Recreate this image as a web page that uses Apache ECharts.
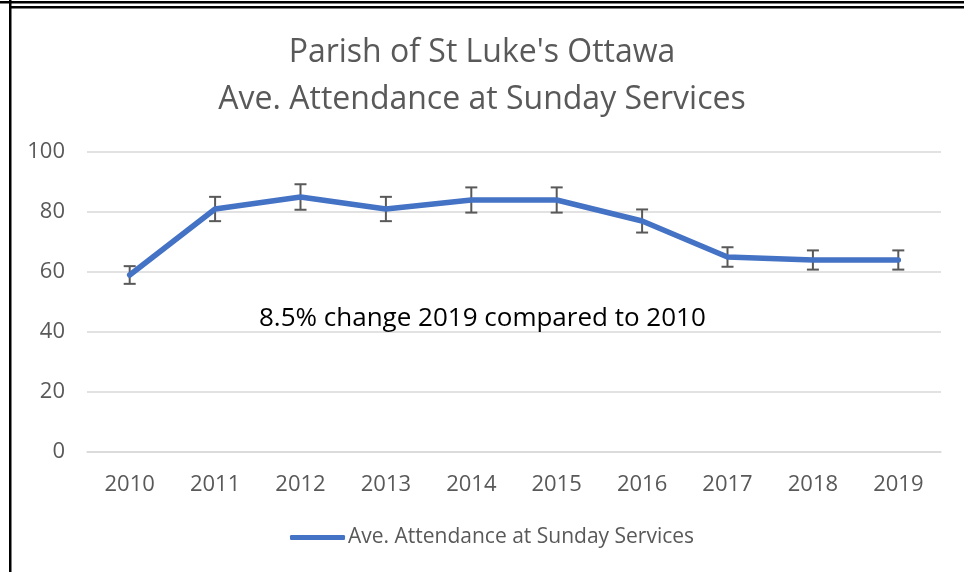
<!DOCTYPE html>
<html>
<head>
<meta charset="utf-8">
<script src="https://cdn.jsdelivr.net/npm/echarts@6/dist/echarts.min.js"></script>
<style>html,body{margin:0;padding:0;background:#fff;}#c{width:964px;height:572px;}</style>
</head>
<body>
<div id="c"></div>
<script>
const years = ['2010','2011','2012','2013','2014','2015','2016','2017','2018','2019'];
const attendance = [59, 81, 85, 81, 84, 84, 77, 65, 64, 64];
const errorPercent = 5;
const yTicks = [0, 20, 40, 60, 80, 100];
const titleLines = ["Parish of St Luke's Ottawa", "Ave. Attendance at Sunday Services"];
const seriesName = 'Ave. Attendance at Sunday Services';
const note = '8.5% change 2019 compared to 2010';

const FONT = '"Open Sans", "Noto Sans", sans-serif';
const errData = attendance.map((v, i) => [i, v - v * errorPercent / 100, v + v * errorPercent / 100]);

const chart = echarts.init(document.getElementById('c'), null, {renderer: 'canvas'});
chart.setOption({
  animation: false,
  backgroundColor: '#ffffff',
  title: {
    text: titleLines.join('\n'),
    left: 'center',
    top: 24,
    textStyle: {color: '#595959', fontSize: 32, fontWeight: 'normal', fontFamily: FONT, lineHeight: 47}
  },
  grid: {left: 87, right: 23, top: 152, bottom: 120},
  legend: {
    left: 285,
    top: 522,
    data: [{name: seriesName, icon: 'roundRect'}],
    itemWidth: 55,
    itemHeight: 5,
    textStyle: {color: '#595959', fontSize: 21, fontFamily: FONT, padding: [0, 0, 0, -2]}
  },
  xAxis: {
    type: 'category',
    data: years,
    boundaryGap: true,
    axisLine: {show: true, lineStyle: {color: '#d9d9d9', width: 1.5}},
    axisTick: {show: false},
    axisLabel: {color: '#595959', fontSize: 22, fontFamily: FONT, margin: 22}
  },
  yAxis: {
    type: 'value',
    min: yTicks[0],
    max: yTicks[yTicks.length - 1],
    interval: 20,
    axisLine: {show: false},
    axisTick: {show: false},
    axisLabel: {color: '#595959', fontSize: 22, fontFamily: FONT, margin: 22},
    splitLine: {lineStyle: {color: '#d9d9d9', width: 1.5}}
  },
  series: [
    {
      type: 'custom',
      name: 'err',
      z: 1,
      data: errData,
      renderItem: function (params, api) {
        const x = api.value(0);
        const lo = api.coord([x, api.value(1)]);
        const hi = api.coord([x, api.value(2)]);
        const hw = 6;
        const style = {stroke: '#595959', lineWidth: 2};
        return {
          type: 'group',
          children: [
            {type: 'line', shape: {x1: lo[0], y1: lo[1], x2: hi[0], y2: hi[1]}, style: style},
            {type: 'line', shape: {x1: lo[0] - hw, y1: lo[1], x2: lo[0] + hw, y2: lo[1]}, style: style},
            {type: 'line', shape: {x1: hi[0] - hw, y1: hi[1], x2: hi[0] + hw, y2: hi[1]}, style: style}
          ]
        };
      },
      silent: true
    },
    {
      type: 'line',
      name: seriesName,
      z: 3,
      data: attendance,
      symbol: 'none',
      itemStyle: {color: '#4472C4'},
      lineStyle: {color: '#4472C4', width: 5.5, cap: 'round', join: 'round'}
    }
  ],
  graphic: [
    {type: 'text', left: 259, top: 306, z: 10,
      style: {text: note, fill: '#000000', font: '26px ' + FONT}},
    {type: 'rect', shape: {x: 0, y: 1, width: 964, height: 2.5}, style: {fill: '#000'}, z: 20},
    {type: 'rect', shape: {x: 9, y: 6, width: 955, height: 2.5}, style: {fill: '#000'}, z: 20},
    {type: 'rect', shape: {x: 9, y: 0, width: 2.5, height: 572}, style: {fill: '#000'}, z: 20}
  ]
});
</script>
</body>
</html>
